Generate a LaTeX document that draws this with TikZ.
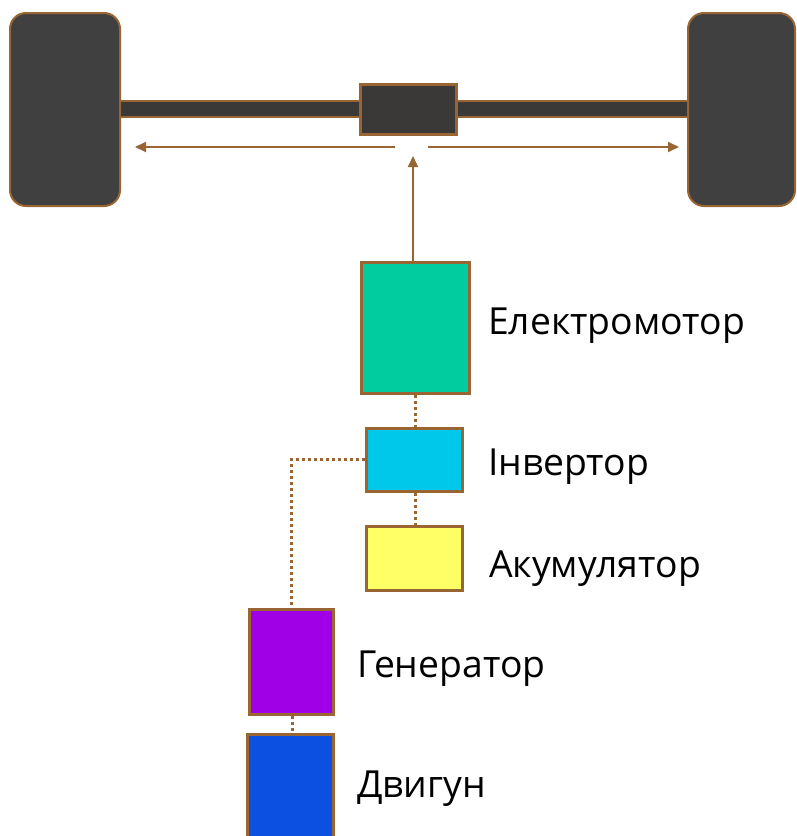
\documentclass[tikz,border=0pt]{standalone}
\usepackage{fontspec}
\setmainfont{Open Sans}
\usetikzlibrary{arrows.meta}
\definecolor{brn}{RGB}{153,102,51}
\definecolor{wheelc}{RGB}{64,64,64}
\definecolor{axlec}{RGB}{59,56,56}
\definecolor{emc}{RGB}{0,204,160}
\definecolor{invc}{RGB}{0,200,235}
\definecolor{accc}{RGB}{255,255,102}
\definecolor{genc}{RGB}{160,0,230}
\definecolor{engc}{RGB}{11,80,224}
\tikzset{
  wheel/.style={draw=brn, line width=2pt, fill=wheelc, rounded corners=16pt},
  part/.style={draw=brn, line width=3pt, fill=#1},
  lbl/.style={anchor=base west, inner sep=0pt, font=\fontsize{37.3}{44}\selectfont},
  flow/.style={draw=brn, line width=2pt, -{Triangle[length=11pt,width=10pt]}},
  link/.style={draw=brn, line width=3pt, dash pattern=on 3pt off 3pt}
}
\begin{document}
\begin{tikzpicture}[x=1pt,y=-1pt]
\useasboundingbox (0,0) rectangle (796,836);
% axle
\draw[draw=brn, line width=2pt, fill=axlec] (120,101) rectangle (688,117);
% wheels
\draw[wheel] (10,13) rectangle (120,206);
\draw[wheel] (688,13) rectangle (795,206);
\node[draw=brn, line width=3pt, fill=axlec, minimum width=96pt, minimum height=50pt, inner sep=0pt] (diff) at (408,109) {};
% distribution arrows
\coordinate (la) at (395,147);
\coordinate (lb) at (135,147);
\coordinate (ra) at (428,147);
\coordinate (rb) at (679,147);
\coordinate (up) at (413,156);
\draw[flow] (la) -- (lb);
\draw[flow] (ra) -- (rb);
% parts
\node[part=emc, minimum width=108pt, minimum height=131pt, inner sep=0pt] (em) at (415,327.5) {};
\node[part=invc, minimum width=96pt, minimum height=63pt, inner sep=0pt] (inv) at (414,459.5) {};
\node[part=accc, minimum width=96pt, minimum height=64pt, inner sep=0pt] (acc) at (414,558) {};
\node[part=genc, minimum width=84pt, minimum height=105pt, inner sep=0pt] (gen) at (291,661.5) {};
\node[part=engc, minimum width=86pt, minimum height=110pt, inner sep=0pt] (eng) at (290,789) {};
\draw[flow] (em.north -| up) -- (up);
% links
\draw[link] (em.south -| 415,0) -- (inv.north -| 415,0);
\draw[link] (inv.south -| 415,0) -- (acc.north -| 415,0);
\draw[link] (inv.west) -| (gen.north);
\draw[link] (gen.south -| 292,0) -- (eng.north -| 292,0);
% labels
\node[lbl] (tem) at (488,334) {Електромотор};
\node[lbl] (tinv) at (488,475) {Інвертор};
\node[lbl] (tacc) at (489,577) {Акумулятор};
\node[lbl] (tgen) at (357,677) {Генератор};
\node[lbl] (teng) at (357,797) {Двигун};
\end{tikzpicture}
\end{document}
